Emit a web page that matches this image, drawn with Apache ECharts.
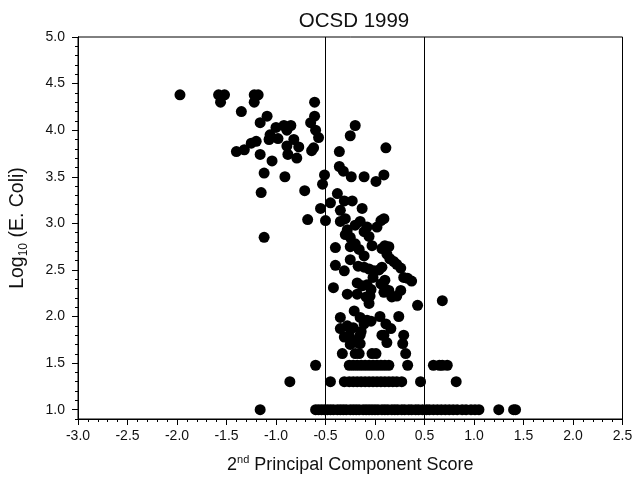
<!DOCTYPE html>
<html>
<head>
<meta charset="utf-8">
<script src="https://cdn.jsdelivr.net/npm/echarts@6/dist/echarts.min.js"></script>
<style>
  html, body { margin: 0; padding: 0; background: #fff; }
  #chart { width: 636px; height: 485px; }
</style>
</head>
<body>
<div id="chart"></div>
<script>
// OCSD 1999: log10 E. coli vs. 2nd principal component score

// Axis ticks
const xTickInterval = 0.5;
const yMajorTicks = [1.0, 1.5, 2.0, 2.5, 3.0, 3.5, 4.0, 4.5, 5.0];
const yMinorTicks = [0.9, 1.1, 1.2, 1.3, 1.4, 1.6, 1.7, 1.8, 1.9, 2.1, 2.2, 2.3, 2.4,
  2.6, 2.7, 2.8, 2.9, 3.1, 3.2, 3.3, 3.4, 3.6, 3.7, 3.8, 3.9, 4.1, 4.2, 4.3, 4.4,
  4.6, 4.7, 4.8, 4.9];

// Score cut-offs drawn as vertical reference lines
const cutoffs = [-0.5, 0.5];

// Samples at the low detection levels (log10 of 10, 20, 30 and 40)
const levelLog10 = [1.0, 1.301, 1.477, 1.602];
const scoresAt10 = [-1.16, -0.60, -0.57, -0.54, -0.51, -0.48, -0.45, -0.42, -0.38, -0.35,
  -0.32, -0.29, -0.25, -0.22, -0.19, -0.16, -0.12, -0.09, -0.06, -0.03, 0.00, 0.03, 0.07,
  0.10, 0.13, 0.17, 0.20, 0.23, 0.27, 0.30, 0.34, 0.37, 0.41, 0.44, 0.48, 0.52, 0.55, 0.59,
  0.63, 0.67, 0.71, 0.75, 0.79, 0.83, 0.88, 0.92, 0.97, 1.01, 1.05, 1.25, 1.40, 1.42];
const scoresAt20 = [-0.86, -0.45, -0.31, -0.26, -0.22, -0.18, -0.14, -0.10, -0.06, -0.02,
  0.02, 0.06, 0.10, 0.14, 0.18, 0.22, 0.27, 0.46, 0.82];
const scoresAt30 = [-0.60, -0.26, -0.22, -0.18, -0.14, -0.10, -0.06, -0.02, 0.02, 0.06,
  0.10, 0.14, 0.33, 0.59, 0.65, 0.68, 0.73];
const scoresAt40 = [-0.33, -0.20, -0.16, -0.03, 0.01, 0.31];

// High-count samples, mostly with negative scores: [score, log10 E. coli]
const upperCluster = [
  [-1.97, 4.38], [-1.58, 4.38], [-1.52, 4.38], [-1.56, 4.30],
  [-1.22, 4.38], [-1.18, 4.38], [-1.22, 4.30],
  [-1.35, 4.20], [-1.09, 4.15], [-1.16, 4.08],
  [-1.00, 4.03], [-0.92, 4.05], [-0.85, 4.05], [-0.89, 4.00],
  [-1.06, 3.95], [-1.07, 3.90], [-0.98, 3.91], [-1.20, 3.88], [-1.25, 3.86],
  [-1.40, 3.77], [-1.32, 3.79], [-1.16, 3.74],
  [-0.82, 3.90], [-0.89, 3.83], [-0.77, 3.82], [-0.88, 3.74], [-0.79, 3.70], [-1.04, 3.67],
  [-0.61, 4.30], [-0.61, 4.15], [-0.65, 4.08], [-0.60, 4.00], [-0.57, 3.92], [-0.62, 3.81], [-0.64, 3.78],
  [-1.12, 3.54], [-0.91, 3.50], [-1.15, 3.33], [-0.71, 3.35], [-1.12, 2.85],
  [-0.20, 4.05], [-0.25, 3.94], [-0.36, 3.77], [0.11, 3.81]
];

// Samples between the cut-offs: [score, log10 E. coli]
const centralCluster = [
  [-0.51, 3.52], [-0.53, 3.42], [-0.36, 3.61], [-0.32, 3.56], [-0.24, 3.50], [-0.11, 3.50],
  [0.01, 3.45], [0.09, 3.52],
  [-0.38, 3.32], [-0.45, 3.22], [-0.55, 3.16], [-0.31, 3.24], [-0.23, 3.24], [-0.13, 3.16], [-0.35, 3.14],
  [-0.68, 3.04], [-0.50, 3.03], [-0.35, 3.02], [-0.30, 3.05], [-0.28, 2.93], [-0.25, 2.85], [-0.30, 2.88],
  [-0.15, 3.02], [-0.08, 2.96], [-0.11, 2.91], [-0.06, 2.86], [0.02, 2.96], [0.06, 3.03], [0.09, 3.05], [-0.20, 2.98],
  [-0.40, 2.74], [-0.25, 2.75], [-0.20, 2.78], [-0.03, 2.76], [0.07, 2.73], [0.10, 2.76], [0.14, 2.75],
  [0.12, 2.67], [-0.11, 2.65], [-0.16, 2.72],
  [-0.25, 2.61], [0.19, 2.59], [0.15, 2.62],
  [-0.40, 2.55], [-0.31, 2.49], [-0.17, 2.54], [-0.11, 2.53], [-0.06, 2.51], [-0.01, 2.49], [0.04, 2.50],
  [0.07, 2.53], [0.26, 2.52], [0.22, 2.56],
  [0.29, 2.42], [0.33, 2.41], [0.37, 2.38], [0.10, 2.39], [-0.02, 2.42],
  [-0.42, 2.31], [-0.28, 2.24], [-0.18, 2.36], [-0.13, 2.33], [-0.08, 2.34], [-0.04, 2.29], [-0.05, 2.22],
  [0.06, 2.35], [0.10, 2.30], [0.09, 2.26], [0.14, 2.28], [0.17, 2.21], [0.22, 2.22], [0.26, 2.28],
  [-0.18, 2.24], [-0.09, 2.21], [-0.06, 2.14], [0.43, 2.12], [0.68, 2.17],
  [-0.35, 1.99], [-0.21, 2.06], [-0.15, 1.99], [-0.08, 1.96], [-0.04, 1.95], [0.05, 2.00], [0.24, 2.00],
  [-0.28, 1.90], [-0.35, 1.87], [-0.22, 1.88], [-0.11, 1.92], [0.16, 1.87], [0.11, 1.92],
  [0.09, 1.80], [0.29, 1.80], [-0.31, 1.78], [-0.15, 1.80], [-0.26, 1.80], [-0.14, 1.84], [0.07, 1.80],
  [-0.21, 1.74], [-0.15, 1.71], [-0.25, 1.70], [-0.18, 1.72], [0.12, 1.72], [0.28, 1.71]
];

// Combine every group into one list of points
const levelScores = [scoresAt10, scoresAt20, scoresAt30, scoresAt40];
const points = [];
levelScores.forEach((scores, i) => {
  scores.forEach(s => points.push([s, levelLog10[i]]));
});
upperCluster.forEach(p => points.push(p));
centralCluster.forEach(p => points.push(p));

const FONT = '"Liberation Sans", Arial, Helvetica, sans-serif';
const TEXT = '#111';
const fmt1 = v => Number(v).toFixed(1);

const chart = echarts.init(document.getElementById('chart'), null, { renderer: 'canvas' });

chart.setOption({
  animation: false,
  backgroundColor: '#fff',
  textStyle: { fontFamily: FONT },
  title: {
    text: 'OCSD 1999',
    left: 354,
    top: 11,
    padding: 0,
    textAlign: 'center',
    textStyle: { fontFamily: FONT, fontSize: 20.5, fontWeight: 'normal', color: TEXT }
  },
  grid: {
    left: 77, right: 13.5, top: 37, bottom: 66,
    show: true, borderColor: '#000', borderWidth: 1, backgroundColor: 'transparent',
    containLabel: false
  },
  xAxis: {
    type: 'value',
    min: -3.0, max: 2.5, interval: xTickInterval,
    axisLine: { show: true, onZero: false, lineStyle: { color: '#000', width: 1 } },
    axisTick: { show: true, length: 6, lineStyle: { color: '#000' } },
    minorTick: { show: true, splitNumber: 5, length: 3, lineStyle: { color: '#000' } },
    splitLine: { show: false },
    axisLabel: { formatter: fmt1, fontFamily: FONT, fontSize: 14, color: TEXT, margin: 10 },
    name: '{b|2}{s|nd}{b| Principal Component Score}',
    nameLocation: 'middle',
    nameGap: 35,
    nameTextStyle: {
      fontFamily: FONT, color: TEXT,
      rich: {
        b: { fontFamily: FONT, fontSize: 18, color: TEXT, lineHeight: 22 },
        s: { fontFamily: FONT, fontSize: 11, color: TEXT, lineHeight: 12, verticalAlign: 'top' }
      }
    }
  },
  yAxis: [
    {
      type: 'value',
      position: 'left',
      min: 0.9, max: 5.0,
      axisLine: { show: true, onZero: false, lineStyle: { color: '#000', width: 1 } },
      axisTick: { show: true, length: 6, customValues: yMajorTicks, lineStyle: { color: '#000' } },
      splitLine: { show: false },
      axisLabel: { customValues: yMajorTicks, formatter: fmt1, fontFamily: FONT, fontSize: 14, color: TEXT, margin: 13 },
      name: '{b|Log}{d|10}{b| (E. Coli)}',
      nameLocation: 'middle',
      nameGap: 48,
      nameTextStyle: {
        fontFamily: FONT, color: TEXT,
        rich: {
          b: { fontFamily: FONT, fontSize: 19.5, color: TEXT, lineHeight: 24 },
          d: { fontFamily: FONT, fontSize: 12, color: TEXT, lineHeight: 13, verticalAlign: 'bottom' }
        }
      }
    },
    {
      type: 'value',
      position: 'left',
      offset: 0,
      min: 0.9, max: 5.0,
      axisLine: { show: true, onZero: false, lineStyle: { color: '#000', width: 1 } },
      axisTick: { show: true, length: 3, customValues: yMinorTicks, lineStyle: { color: '#000' } },
      axisLabel: { show: false },
      splitLine: { show: false }
    }
  ],
  series: [{
    type: 'scatter',
    xAxisIndex: 0,
    yAxisIndex: 0,
    data: points,
    symbol: 'circle',
    symbolSize: 11,
    itemStyle: { color: '#000', opacity: 1 },
    silent: true,
    markLine: {
      silent: true,
      symbol: 'none',
      label: { show: false },
      lineStyle: { color: '#000', width: 1, type: 'solid' },
      data: cutoffs.map(v => ({ xAxis: v }))
    }
  }]
});
</script>
</body>
</html>
